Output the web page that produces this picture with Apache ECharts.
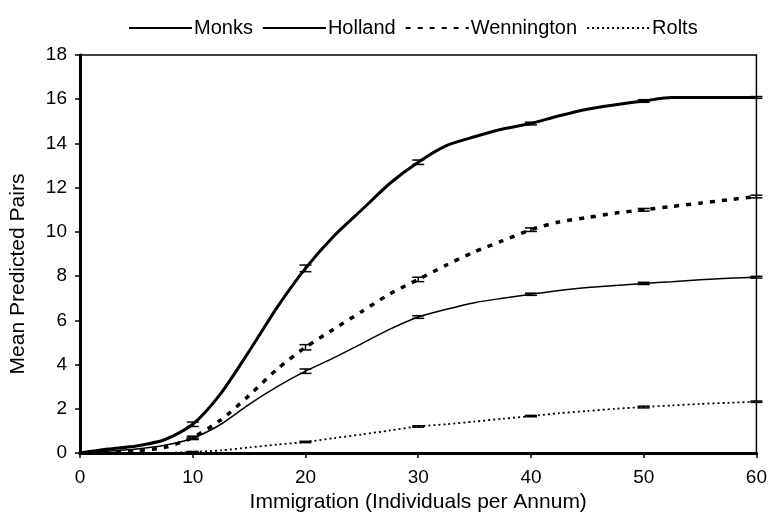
<!DOCTYPE html>
<html>
<head>
<meta charset="utf-8">
<script src="https://cdn.jsdelivr.net/npm/echarts@6/dist/echarts.min.js"></script>
<style>
  html, body { margin: 0; padding: 0; background: #fff; }
  #chart { width: 770px; height: 528px; }
</style>
</head>
<body>
<div id="chart"></div>
<script>
// Immigration rate (individuals per annum)
const immigration = [0, 2.5, 5, 7.5, 10, 12.5, 15, 17.5, 20, 22.5, 25, 27.5, 30,
  32.5, 35, 37.5, 40, 42.5, 45, 47.5, 50, 52.5, 55, 57.5, 60];

// Mean predicted breeding pairs per site
const monks = [0, 0.18, 0.32, 0.6, 1.3, 2.7, 4.6, 6.6, 8.35, 9.8, 11.0, 12.2, 13.15,
  13.9, 14.3, 14.65, 14.9, 15.25, 15.55, 15.75, 15.92, 16.08, 16.08, 16.08, 16.08];
const holland = [0, 0.08, 0.18, 0.35, 0.67, 1.3, 2.2, 3.0, 3.7, 4.3, 4.95, 5.6, 6.15,
  6.5, 6.8, 7.0, 7.18, 7.35, 7.48, 7.58, 7.67, 7.75, 7.83, 7.9, 7.95];
const wennington = [0, 0.05, 0.1, 0.25, 0.7, 1.5, 2.6, 3.8, 4.78, 5.6, 6.4, 7.2, 7.85,
  8.5, 9.1, 9.6, 10.1, 10.45, 10.65, 10.85, 11.0, 11.15, 11.3, 11.45, 11.6];
const rolts = [0, 0, 0, 0, 0.05, 0.12, 0.25, 0.38, 0.5, 0.67, 0.84, 1.02, 1.2,
  1.3, 1.42, 1.55, 1.67, 1.8, 1.9, 2.0, 2.08, 2.15, 2.22, 2.27, 2.32];

// Points carrying error bars and their half-widths
const errX = [10, 20, 30, 40, 50, 60];
const monksErr = [0.1, 0.15, 0.1, 0.06, 0.06, 0.04];
const hollandErr = [0.06, 0.1, 0.06, 0.05, 0.05, 0.04];
const wenningtonErr = [0.06, 0.12, 0.1, 0.08, 0.06, 0.06];
const roltsErr = [0.02, 0.03, 0.03, 0.03, 0.04, 0.03];

const yTicks = [0, 2, 4, 6, 8, 10, 12, 14, 16, 18];
const xTicks = [0, 10, 20, 30, 40, 50, 60];

function pairs(values) {
  return immigration.map((x, i) => [x, values[i]]);
}

function errorData(values, errs) {
  return errX.map((x, i) => {
    const v = values[immigration.indexOf(x)];
    return [x, v - errs[i], v + errs[i]];
  });
}

function errorSeries(values, errs) {
  return {
    type: 'custom',
    data: errorData(values, errs),
    silent: true,
    z: 5,
    renderItem: function (params, api) {
      const x = api.value(0);
      const lo = api.coord([x, api.value(1)]);
      const hi = api.coord([x, api.value(2)]);
      const hw = 6;
      const style = { stroke: '#000', lineWidth: 1.5 };
      return {
        type: 'group',
        children: [
          { type: 'line', shape: { x1: lo[0], y1: lo[1], x2: hi[0], y2: hi[1] }, style },
          { type: 'line', shape: { x1: lo[0] - hw, y1: lo[1], x2: lo[0] + hw, y2: lo[1] }, style },
          { type: 'line', shape: { x1: hi[0] - hw, y1: hi[1], x2: hi[0] + hw, y2: hi[1] }, style }
        ]
      };
    }
  };
}

function lineSeries(name, values, width, dash) {
  return {
    name: name,
    type: 'line',
    data: pairs(values),
    smooth: 0.25,
    symbol: 'none',
    z: 4,
    lineStyle: { color: '#000', width: width, type: dash },
    itemStyle: { color: '#000' }
  };
}

const chart = echarts.init(document.getElementById('chart'), null, { renderer: 'canvas' });

const font = 'Liberation Sans, Arial, sans-serif';

chart.setOption({
  animation: false,
  backgroundColor: '#fff',
  textStyle: { fontFamily: font, color: '#000' },
  legend: {
    top: 13,
    left: 123,
    itemWidth: 63,
    itemHeight: 12,
    itemGap: 9,
    itemStyle: { color: 'transparent', borderWidth: 0, opacity: 0 },
    textStyle: { fontSize: 20, fontFamily: font, color: '#000', padding: [0, 0, 0, -3] },
    data: ['Monks', 'Holland', 'Wennington', 'Rolts']
  },
  grid: {
    left: 80, right: 13, top: 55, bottom: 75,
    show: true,
    borderColor: '#000',
    borderWidth: 1.5,
    backgroundColor: 'transparent'
  },
  xAxis: {
    type: 'value',
    min: 0, max: 60, interval: 10,
    name: 'Immigration (Individuals per Annum)',
    nameLocation: 'middle',
    nameGap: 34,
    nameTextStyle: { fontSize: 21, fontFamily: font, color: '#000' },
    axisLine: { show: true, lineStyle: { color: '#000', width: 3 } },
    axisTick: { show: true, inside: false, length: 5, lineStyle: { color: '#000', width: 1.5 } },
    axisLabel: {
      fontSize: 19, fontFamily: font, color: '#000', margin: 15,
      formatter: v => xTicks.includes(v) ? String(v) : ''
    },
    splitLine: { show: false }
  },
  yAxis: {
    type: 'value',
    min: 0, max: 18, interval: 2,
    name: 'Mean Predicted Pairs',
    nameLocation: 'middle',
    nameGap: 51,
    nameRotate: 90,
    nameTextStyle: { fontSize: 21, fontFamily: font, color: '#000', padding: [0, 40, 0, 0] },
    axisLine: { show: true, lineStyle: { color: '#000', width: 3 } },
    axisTick: { show: true, inside: false, length: 5, lineStyle: { color: '#000', width: 1.5 } },
    axisLabel: {
      fontSize: 19, fontFamily: font, color: '#000', margin: 13,
      formatter: v => yTicks.includes(v) ? String(v) : ''
    },
    splitLine: { show: false }
  },
  series: [
    lineSeries('Monks', monks, 3, 'solid'),
    lineSeries('Holland', holland, 1.5, 'solid'),
    lineSeries('Wennington', wennington, 3.5, [5, 7]),
    lineSeries('Rolts', rolts, 1.8, [2, 3]),
    errorSeries(monks, monksErr),
    errorSeries(holland, hollandErr),
    errorSeries(wennington, wenningtonErr),
    errorSeries(rolts, roltsErr)
  ]
});
</script>
</body>
</html>
